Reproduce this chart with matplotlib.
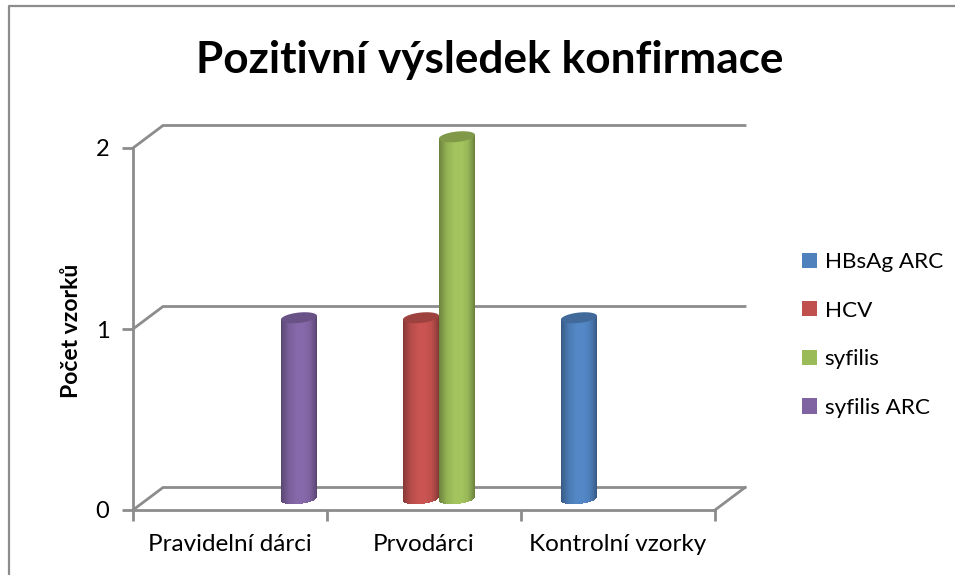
import numpy as np
import matplotlib
matplotlib.use("Agg")
import matplotlib.pyplot as plt
from matplotlib.patches import Patch
from matplotlib.lines import Line2D

categories = ["Pravidelní dárci", "Prvodárci", "Kontrolní vzorky"]
series_names = ["HBsAg ARC", "HCV", "syfilis", "syfilis ARC"]
hbsag_arc = [0, 0, 1]
hcv = [0, 1, 0]
syfilis = [0, 2, 0]
syfilis_arc = [1, 0, 0]
series_values = [hbsag_arc, hcv, syfilis, syfilis_arc]
colors = ["#4F81BD", "#C0504D", "#9BBB59", "#8064A2"]
y_ticks = [0, 1, 2]

GRAY = "#8C8C8C"
W_PX, H_PX = 955, 575
X0, X1, Y0, Y2 = 133, 715, 510, 148
fig = plt.figure(figsize=(W_PX / 100, H_PX / 100), dpi=100)
plt.rcParams["font.family"] = ["Lato", "DejaVu Sans"]
ax = fig.add_axes([X0 / W_PX, 1 - Y0 / H_PX, (X1 - X0) / W_PX, (Y0 - Y2) / H_PX])
ax.set_xlim(0, 3)
ax.set_ylim(0, 2)
ax.patch.set_alpha(0)

px_x = (X1 - X0) / 3
px_y = (Y0 - Y2) / 2
DX = 30 / px_x
DY = 22.5 / px_y

# walls / floor
for v in y_ticks:
    ax.plot([0, DX, 3 + DX], [v, v + DY, v + DY], color=GRAY, lw=2, clip_on=False, zorder=1,
            solid_joinstyle="miter")
ax.plot([3, 3 + DX], [0, DY], color=GRAY, lw=2, clip_on=False, zorder=1)

# cylinders
BAR_W = 36 / px_x
EL_B = 5.2 / px_y
TILT = 1.8 / px_y
N = 90
u = (np.arange(N) + 0.5) / N * 2 - 1
shade = np.interp(u, [-1, -0.85, -0.55, -0.1, 0.25, 0.6, 0.85, 1],
                  [0.68, 0.78, 0.95, 1.05, 1.05, 0.98, 0.82, 0.68])
base_rgb = [np.array(matplotlib.colors.to_rgb(c)) for c in colors]
t = np.linspace(0, 2 * np.pi, 120)
for s, vals in enumerate(series_values):
    for c, v in enumerate(vals):
        if v == 0:
            continue
        cx = c + 0.5 + DX / 2 + (s - 1.5) * BAR_W
        fl = DY / 2
        xs = cx + u * BAR_W / 2
        sag = EL_B * np.sqrt(1 - u ** 2)
        bottoms = fl + TILT * u - sag
        heights = v + sag
        cols = [np.clip(base_rgb[s] * k, 0, 1) for k in shade]
        ax.bar(xs, heights, bottom=bottoms, width=BAR_W / N * 1.6, color=cols,
               linewidth=0, clip_on=False, zorder=3 + s)
        ax.fill(cx + BAR_W / 2 * np.cos(t),
                fl + v + EL_B * np.sin(t) + TILT * np.cos(t),
                color=np.clip(base_rgb[s] * 0.82, 0, 1), lw=0, clip_on=False, zorder=3 + s)

# axes
for k in ["top", "right"]:
    ax.spines[k].set_visible(False)
for k in ["left", "bottom"]:
    ax.spines[k].set_color(GRAY)
    ax.spines[k].set_linewidth(2)
ax.set_yticks(y_ticks)
ax.set_yticklabels([str(v) for v in y_ticks], fontsize=17)
ax.set_xticks(range(4))
ax.set_xticklabels([])
ax.set_xticks([0.5, 1.5, 2.5], minor=True)
ax.set_xticklabels(categories, minor=True, fontsize=17.5)
ax.tick_params(axis="y", length=8, width=2, color=GRAY, pad=9, labelcolor="black")
ax.tick_params(axis="x", which="major", length=8, width=2, color=GRAY)
ax.tick_params(axis="x", which="minor", length=0, pad=17)

fig.text(490 / W_PX, 1 - 60 / H_PX, "Pozitivní výsledek konfirmace", fontsize=31.8,
         fontweight="bold", ha="center", va="center")
fig.text(71 / W_PX, 1 - 331 / H_PX, "Počet vzorků", fontsize=16.5, fontweight="bold",
         rotation=90, ha="center", va="center")

handles = [Patch(facecolor=c, edgecolor="none") for c in colors]
fig.legend(handles, series_names, loc="center left", bbox_to_anchor=(802 / W_PX, 1 - 335 / H_PX),
           frameon=False, fontsize=16.2, handlelength=0.66, handleheight=0.66, handletextpad=0.35,
           labelspacing=1.27, borderpad=0, borderaxespad=0)

# outer frame
fig.add_artist(Line2D([9 / W_PX, 9 / W_PX, 1], [0, 1 - 6 / H_PX, 1 - 6 / H_PX],
                      transform=fig.transFigure, color=GRAY, lw=1.6))

fig.savefig("out.png", dpi=100)
